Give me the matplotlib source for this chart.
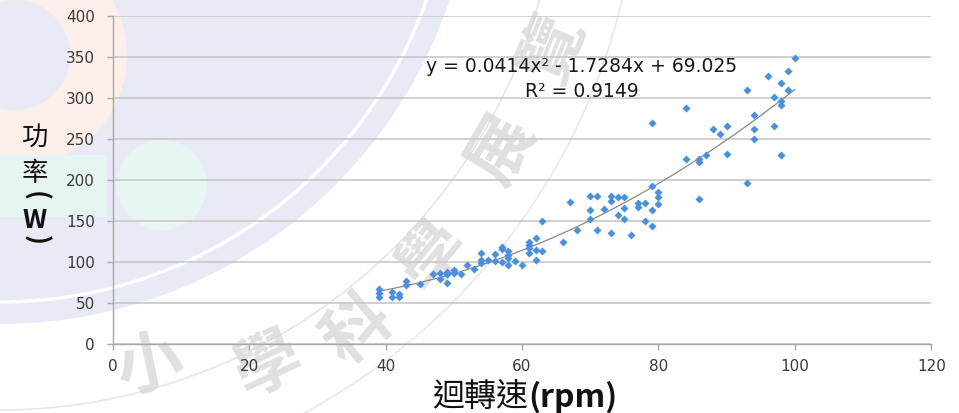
import matplotlib
matplotlib.use("Agg")
import matplotlib.pyplot as plt
import numpy as np
from matplotlib.patches import Circle, Rectangle

# Rotational speed (rpm) and measured power (W)
rpm = [39, 39, 39, 41, 41, 42, 42, 43, 43, 45, 47, 48, 48, 49, 49, 49, 50, 50,
       51, 52, 53, 54, 54, 54, 55, 56, 56, 57, 57, 57, 58, 58, 58, 58, 59, 60,
       61, 61, 61, 61, 62, 62, 62, 63, 63, 66, 67, 68, 70, 70, 70, 71, 71, 72,
       73, 73, 73, 74, 74, 75, 75, 75, 76, 77, 77, 78, 78, 79, 79, 79, 79,
       80, 80, 80, 84, 84, 86, 86, 86, 87, 88, 89, 90, 90, 93, 93, 94, 94, 94,
       96, 97, 97, 98, 98, 98, 98, 99, 99, 100]
power = [67, 62, 57, 64, 57, 61, 57, 77, 72, 73, 86, 87, 79, 88, 85, 75, 90, 87,
         85, 96, 92, 111, 103, 99, 103, 110, 101, 119, 116, 100, 113, 109, 105, 96, 102, 96,
         125, 121, 117, 111, 130, 115, 103, 150, 113, 125, 173, 139, 180, 163, 153, 180, 139, 165,
         180, 175, 136, 179, 157, 179, 166, 153, 133, 172, 167, 172, 150, 269, 193, 163, 144,
         185, 179, 171, 288, 225, 225, 222, 177, 230, 262, 256, 266, 232, 310, 196, 279, 262, 250,
         327, 301, 266, 318, 296, 291, 230, 333, 309, 349]

# Quadratic trendline coefficients (a x^2 + b x + c) and fit quality
trend_coef = [0.0414, -1.7284, 69.025]
r_squared = 0.9149

x_ticks = [0, 20, 40, 60, 80, 100, 120]
y_ticks = [0, 50, 100, 150, 200, 250, 300, 350, 400]

W, H = 959, 413
fig = plt.figure(figsize=(W / 100, H / 100), dpi=100)

# ---- decorative background (logo-style shapes, pixel coordinates) ----
bg = fig.add_axes([0, 0, 1, 1], zorder=0)
bg.set_xlim(0, W)
bg.set_ylim(H, 0)
bg.axis("off")
lav = "#E8EBF5"
bg.add_patch(Circle((0, -150), 474, color=lav, lw=0))
bg.add_patch(Circle((15, 55), 112, color="#FCEFEA", lw=0))
bg.add_patch(Rectangle((0, 155), 107, 62, color="#E7F5F2", lw=0))
bg.add_patch(Circle((15, 55), 55, color=lav, lw=0))
bg.add_patch(Circle((162, 185), 45, color="#E8F6F3", lw=0))
bg.add_patch(Circle((0, -150), 452, fill=False, ec="white", lw=2.5))
bg.add_patch(Circle((0, -150), 560, fill=False, ec="#E6E6E6", lw=1.2))
bg.add_patch(Circle((0, -150), 640, fill=False, ec="#E9E9E9", lw=1.2))

wm_chars = ["小", "學", "科", "學", "展", "覽"]
wm_pos = [(150, 366), (268, 365), (358, 330), (433, 255), (503, 150), (553, 50)]
wm_rot = [12, 25, 40, 50, 60, 68]
for ch, (px, py), rot in zip(wm_chars, wm_pos, wm_rot):
    bg.text(px, py, ch, fontsize=48, fontweight="bold", color="#D6D6D6",
            alpha=0.75, rotation=rot, ha="center", va="center",
            family=["Noto Sans CJK TC", "DejaVu Sans"])

# ---- main chart ----
left_px, right_px, top_px, bottom_px = 112.7, 931.3, 15.7, 344.3
ax = fig.add_axes([left_px / W, 1 - bottom_px / H,
                   (right_px - left_px) / W, (bottom_px - top_px) / H], zorder=1)
ax.patch.set_alpha(0)

ax.set_xlim(0, 120)
ax.set_ylim(0, 400)
ax.set_xticks(x_ticks)
ax.set_yticks(y_ticks)
ax.set_axisbelow(True)
ax.yaxis.grid(True, color="#C8C8C8", lw=1.2)
for side in ("top", "right"):
    ax.spines[side].set_visible(False)
for side in ("left", "bottom"):
    ax.spines[side].set_color("#A8A8A8")
    ax.spines[side].set_linewidth(1.0)
ax.tick_params(axis="both", direction="out", length=4.3, width=1.0,
               color="#A8A8A8", labelcolor="#3A3A3A", labelsize=11)
ax.tick_params(axis="y", pad=8.5)
ax.tick_params(axis="x", pad=6.5)

xs = np.linspace(min(rpm), max(rpm), 200)
ax.plot(xs, np.polyval(trend_coef, xs), color="#8A8A8A", lw=0.9, zorder=2)
ax.plot(rpm, power, "D", ms=4.0, color="#4A90DA", mec="none", zorder=3)

a, b, c = trend_coef
eq = f"y = {a:.4f}x\u00b2 - {abs(b):.4f}x + {c:.3f}"
ax.text(68.8, 331, eq, ha="center", va="baseline", fontsize=13.5, color="#1A1A1A")
ax.text(68.8, 301.3, f"R\u00b2 = {r_squared:.4f}", ha="center", va="baseline",
        fontsize=13.5, color="#1A1A1A")

# ---- axis titles ----
cjk = ["Noto Sans CJK TC", "DejaVu Sans"]


def fx(px):
    return px / W


def fy(py):
    return 1 - py / H


fig.text(fx(528), fy(397), "迴轉速", ha="right", va="center", fontsize=23,
         family=cjk, color="#111111")
fig.text(fx(528), fy(397), "(rpm)", ha="left", va="center", fontsize=23,
         fontweight="bold", family=cjk, color="#111111")

fig.text(fx(35), fy(137), "功", ha="center", va="center", fontsize=19, family=cjk,
         color="#111111")
fig.text(fx(35), fy(174), "率", ha="center", va="center", fontsize=19, family=cjk,
         color="#111111")
fig.text(fx(35), fy(196), "(", ha="center", va="center", fontsize=19, rotation=-90,
         fontweight="bold", family=cjk, color="#111111")
fig.text(fx(35), fy(221), "W", ha="center", va="center", fontsize=19,
         fontweight="bold", family=cjk, color="#111111")
fig.text(fx(35), fy(240), ")", ha="center", va="center", fontsize=19, rotation=-90,
         fontweight="bold", family=cjk, color="#111111")

fig.savefig("out.png", dpi=100)
